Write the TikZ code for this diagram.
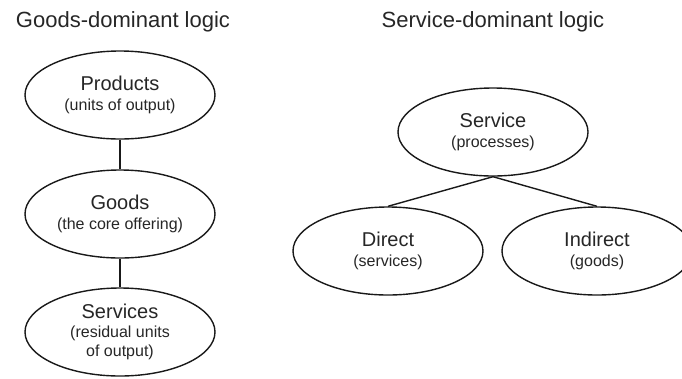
\documentclass[tikz,border=0pt]{standalone}
\usepackage{fontspec}
\setmainfont{Liberation Sans}
\usetikzlibrary{shapes.geometric}
\newcommand\headsize{\fontsize{22}{26}\selectfont}
\newcommand\bigword[1]{{\fontsize{20}{22}\selectfont #1}}
\begin{document}
\begin{tikzpicture}[x=1pt,y=-1pt,
  oval/.style={ellipse, draw=black!90, line width=1.4pt, minimum width=190pt,
    minimum height=88pt, inner sep=0pt, align=center, text=black!85,
    font=\fontsize{16}{19}\selectfont},
  heading/.style={text=black!85, font=\headsize, inner sep=0pt, anchor=base},
  link/.style={draw=black!90, line width=1.4pt}]
  \useasboundingbox (0,0) rectangle (682,378);
  \clip (0,0) rectangle (682,378);

  % left column: goods-dominant view
  \node[heading] (gdl) at (123,27) {Goods-dominant logic};
  \node[oval] (prod) at (120,95) {\bigword{Products}\\[1pt](units of output)};
  \node[oval] (goods) at (120,214) {\bigword{Goods}\\[1pt](the core offering)};
  \node[oval] (servs) at (120,332) {\bigword{Services}\\[0pt](residual units\\of output)};
  \draw[link] (prod.south) -- (goods.north);
  \draw[link] (goods.south) -- (servs.north);

  % right column: service-dominant view
  \node[heading] (sdl) at (493,27) {Service-dominant logic};
  \node[oval] (serv) at (493,132) {\bigword{Service}\\[1pt](processes)};
  \node[oval] (direct) at (388,251) {\bigword{Direct}\\[1pt](services)};
  \node[oval] (indirect) at (597,251) {\bigword{Indirect}\\[1pt](goods)};
  \draw[link] (serv.south) -- (direct.north);
  \draw[link] (serv.south) -- (indirect.north);
\end{tikzpicture}
\end{document}
